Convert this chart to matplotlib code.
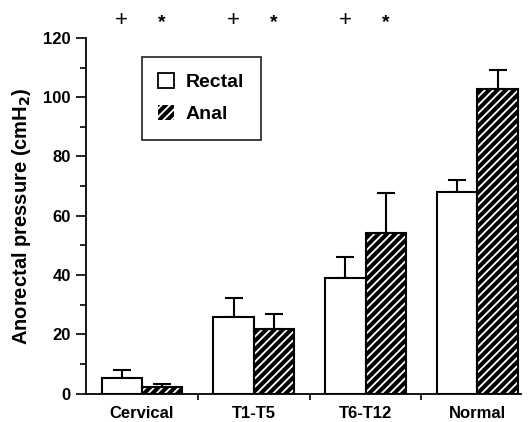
import matplotlib
matplotlib.use("Agg")
import matplotlib.pyplot as plt
import matplotlib.patches as mpatches
import numpy as np

plt.rcParams["font.family"] = ["Liberation Sans", "DejaVu Sans"]
plt.rcParams["font.weight"] = "bold"
plt.rcParams["axes.labelweight"] = "bold"
plt.rcParams["mathtext.default"] = "bf"
plt.rcParams["hatch.linewidth"] = 1.3

# ── data ──────────────────────────────────────────────────────────────────────
groups = ["Cervical", "T1-T5", "T6-T12", "Normal"]
rectal = [5.1, 25.8, 39.1, 68.1]
rectal_err = [2.8, 6.3, 7.0, 3.9]
anal = [2.3, 21.7, 54.3, 102.8]
anal_err = [0.9, 5.1, 13.3, 6.3]
rectal_marks = ["+", "+", "+", ""]
anal_marks = ["*", "*", "*", ""]

BAR_W = 0.358
x = np.arange(len(groups))
x_rec = x - BAR_W / 2
x_an = x + BAR_W / 2

fig = plt.figure(figsize=(5.28, 4.22), dpi=100)
ax = fig.add_axes([0.163, 0.0675, 0.824, 0.8425])

# rectal: open bars
ax.bar(x_rec, rectal, BAR_W, color="white", edgecolor="black", linewidth=1.5, zorder=2)
# anal: black bars with white diagonal hatching, then a black outline
ax.bar(x_an, anal, BAR_W, color="black", edgecolor="white", hatch="////",
       linewidth=0, zorder=2)
ax.bar(x_an, anal, BAR_W, fill=False, edgecolor="black", linewidth=1.5, zorder=3)

# upward-only SEM bars
err_kw = dict(fmt="none", ecolor="black", elinewidth=1.5, capsize=6.5,
              capthick=1.5, zorder=1)
ax.errorbar(x_rec, rectal, yerr=[np.zeros(len(rectal)), rectal_err], **err_kw)
ax.errorbar(x_an, anal, yerr=[np.zeros(len(anal)), anal_err], **err_kw)

# significance marks above the plot
for xi, m in zip(x_rec, rectal_marks):
    ax.text(xi, 126, m, ha="center", va="center", fontsize=16,
            fontweight="normal", clip_on=False)
for xi, m in zip(x_an, anal_marks):
    ax.text(xi, 125.3, m, ha="center", va="center", fontsize=14,
            fontweight="bold", clip_on=False)

ax.set_xlim(-0.496, 3.39)
ax.set_ylim(0, 120)
ax.set_yticks(np.arange(0, 121, 20))
ax.set_yticks(np.arange(0, 121, 10), minor=True)
ax.set_xticks(x)
ax.set_xticklabels(groups)
ax.set_xticks(x[:-1] + 0.5, minor=True)
ax.tick_params(axis="x", which="major", length=0, pad=9, labelsize=12)
ax.tick_params(axis="x", which="minor", length=4, width=1.2, direction="out")
ax.tick_params(axis="y", which="major", length=7, width=1.2, pad=4, labelsize=12)
ax.tick_params(axis="y", which="minor", length=4, width=1.2)

for side in ["top", "right"]:
    ax.spines[side].set_visible(False)
for side in ["left", "bottom"]:
    ax.spines[side].set_linewidth(1.3)

ax.set_ylabel("Anorectal pressure (cmH$_2$)", fontsize=14.5, labelpad=7)

handles = [
    mpatches.Patch(facecolor="white", edgecolor="black", linewidth=1.3, label="Rectal"),
    mpatches.Patch(facecolor="black", edgecolor="white", hatch="////", linewidth=0,
                   label="Anal"),
]
leg = ax.legend(handles=handles, loc="upper left", bbox_to_anchor=(0.106, 0.975),
                fontsize=14, frameon=True, fancybox=False, edgecolor="black",
                handlelength=0.8, handleheight=0.8, handletextpad=0.6,
                borderpad=0.85, labelspacing=0.7)
leg.get_frame().set_linewidth(1.3)

fig.savefig("out.png", dpi=100)
